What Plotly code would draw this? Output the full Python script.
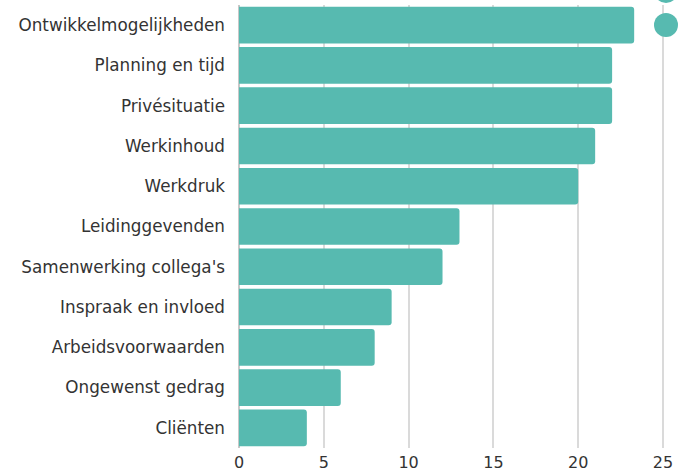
import plotly.graph_objects as go

categories = ["Ontwikkelmogelijkheden", "Planning en tijd", "Privésituatie", "Werkinhoud",
              "Werkdruk", "Leidinggevenden", "Samenwerking collega's", "Inspraak en invloed",
              "Arbeidsvoorwaarden", "Ongewenst gedrag", "Cliënten"]
values = [23.3, 22, 22, 21, 20, 13, 12, 9, 8, 6, 4]
tick_vals = [0, 5, 10, 15, 20, 25]

W, H = 684, 471
ML, MR, MT, MB = 239, 0, 5, 23
plot_w = W - ML - MR
x_max = 25 * plot_w / (663 - 239)

fig = go.Figure(go.Bar(
    x=values, y=categories, orientation="h",
    marker=dict(color="#57bab0", cornerradius=3, line=dict(width=0)),
    width=0.91,
    hoverinfo="x+y",
))

FONT = "DejaVu Sans"
fig.update_layout(
    width=W, height=H,
    margin=dict(l=ML, r=MR, t=MT, b=MB, pad=0, autoexpand=False),
    paper_bgcolor="white", plot_bgcolor="white",
    showlegend=False,
    font=dict(family=FONT, size=16, color="#333333"),
    xaxis=dict(range=[0, x_max], tickvals=tick_vals, showgrid=True,
               gridcolor="#dadada", gridwidth=1.5, zeroline=True,
               zerolinecolor="#c8c8c8", zerolinewidth=1.5,
               showline=False, ticks="", tickfont=dict(size=16, color="#333333"),
               automargin=False, ticklabelstandoff=3, fixedrange=True),
    yaxis=dict(categoryorder="array", categoryarray=categories[::-1],
               autorange=False, range=[-0.5, len(categories) - 0.5],
               showgrid=False, zeroline=False, showline=False, ticks="",
               ticklabelstandoff=13, tickfont=dict(size=16.8, color="#333333"),
               automargin=False, fixedrange=True),
)

def circ(cx, cy, r):
    return dict(type="circle", xref="paper", yref="paper",
                x0=(cx - r - ML) / plot_w, x1=(cx + r - ML) / plot_w,
                y0=(H - MB - (cy + r)) / (H - MT - MB), y1=(H - MB - (cy - r)) / (H - MT - MB),
                fillcolor="#57bab0", line=dict(width=0), layer="above")

fig.update_layout(shapes=[circ(666, 25, 12), circ(666, -9, 12)])

fig.write_html("out.html", config={"displayModeBar": False},
               post_script="document.body.style.margin='0';document.body.style.overflow='hidden';")
